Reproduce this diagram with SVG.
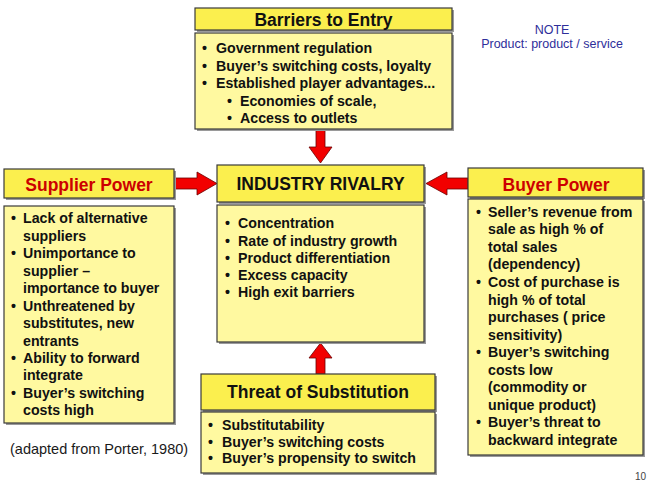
<svg xmlns="http://www.w3.org/2000/svg" width="649" height="482" viewBox="0 0 649 482">
<style>
.hdr{fill:#FBEF4E;stroke:#3a3a3a;stroke-width:1.2}
.body{fill:#FFF9A0;stroke:#3a3a3a;stroke-width:1.2}
.sh{fill:#9a9a9a}
.ht{font-family:"Liberation Sans",Arial,sans-serif;font-weight:bold;font-size:17.5px;fill:#111;text-anchor:middle}
.red{fill:#CC0000}
.bt{font-family:"Liberation Sans",Arial,sans-serif;font-weight:bold;font-size:14.2px;fill:#111}
.arrow{fill:#F20000;stroke:#6a0000;stroke-width:0.8}
.note{font-family:"Liberation Sans",Arial,sans-serif;font-size:12.5px;fill:#2E2E9A}
</style>
<rect width="649" height="482" fill="#fff"/>
<g id="connectors">
<polygon class="arrow" points="316,129 325,129 325,147 332,147 320.5,163 309,147 316,147"/>
<polygon class="arrow" points="320.5,343 332,358 325,358 325,374 316,374 316,358 309,358"/>
<polygon class="arrow" points="174,178 197,178 197,172 217,183.5 197,195 197,189 174,189"/>
<polygon class="arrow" points="468,178 447,178 447,172 426,183.5 447,195 447,189 468,189"/>
</g>
<g id="barriers">
<rect class="sh" x="197" y="10" width="257" height="22"/>
<rect class="hdr" x="195" y="8" width="257" height="22"/>
<text class="ht" x="323.5" y="26">Barriers to Entry</text>
<rect class="sh" x="197" y="35" width="257" height="96"/>
<rect class="body" x="195" y="33" width="257" height="96"/>
<g class="bt">
<text x="202" y="53">•</text><text x="216" y="53">Government regulation</text>
<text x="202" y="71">•</text><text x="216" y="71">Buyer’s switching costs, loyalty</text>
<text x="202" y="88">•</text><text x="216" y="88">Established player advantages...</text>
<text x="227" y="106">•</text><text x="240" y="106">Economies of scale,</text>
<text x="227" y="123">•</text><text x="240" y="123">Access to outlets</text>
</g>
</g>
<g id="supplier">
<rect class="sh" x="6" y="171" width="170" height="29"/>
<rect class="hdr" x="4" y="169" width="170" height="29"/>
<text class="ht red" x="89" y="191">Supplier Power</text>
<rect class="sh" x="6" y="208" width="170" height="217"/>
<rect class="body" x="4" y="206" width="170" height="217"/>
<g class="bt">
<text x="11" y="223">•</text><text x="23" y="223">Lack of alternative</text>
<text x="23" y="241">suppliers</text>
<text x="11" y="258">•</text><text x="23" y="258">Unimportance to</text>
<text x="23" y="276">supplier –</text>
<text x="23" y="293">importance to buyer</text>
<text x="11" y="311">•</text><text x="23" y="311">Unthreatened by</text>
<text x="23" y="328">substitutes, new</text>
<text x="23" y="346">entrants</text>
<text x="11" y="363">•</text><text x="23" y="363">Ability to forward</text>
<text x="23" y="380">integrate</text>
<text x="11" y="398">•</text><text x="23" y="398">Buyer’s switching</text>
<text x="23" y="415">costs high</text>
</g>
</g>
<g id="rivalry">
<rect class="sh" x="219" y="167" width="207" height="37"/>
<rect class="hdr" x="217" y="165" width="207" height="37"/>
<text class="ht" x="320.5" y="190">INDUSTRY RIVALRY</text>
<rect class="sh" x="219" y="207" width="207" height="137"/>
<rect class="body" x="217" y="205" width="207" height="137"/>
<g class="bt">
<text x="225" y="228">•</text><text x="238" y="228">Concentration</text>
<text x="225" y="246">•</text><text x="238" y="246">Rate of industry growth</text>
<text x="225" y="263">•</text><text x="238" y="263">Product differentiation</text>
<text x="225" y="280">•</text><text x="238" y="280">Excess capacity</text>
<text x="225" y="297">•</text><text x="238" y="297">High exit barriers</text>
</g>
</g>
<g id="buyer">
<rect class="sh" x="470" y="170" width="175" height="29"/>
<rect class="hdr" x="468" y="168" width="175" height="29"/>
<text class="ht red" x="556" y="191">Buyer Power</text>
<rect class="sh" x="470" y="201" width="175" height="256"/>
<rect class="body" x="468" y="199" width="175" height="256"/>
<g class="bt">
<text x="476" y="217">•</text><text x="488" y="217">Seller’s revenue from</text>
<text x="488" y="234">sale as high % of</text>
<text x="488" y="252">total sales</text>
<text x="488" y="269">(dependency)</text>
<text x="476" y="287">•</text><text x="488" y="287">Cost of purchase is</text>
<text x="488" y="305">high % of total</text>
<text x="488" y="322">purchases ( price</text>
<text x="488" y="340">sensitivity)</text>
<text x="476" y="357">•</text><text x="488" y="357">Buyer’s switching</text>
<text x="488" y="375">costs low</text>
<text x="488" y="392">(commodity or</text>
<text x="488" y="410">unique product)</text>
<text x="476" y="427">•</text><text x="488" y="427">Buyer’s threat to</text>
<text x="488" y="445">backward integrate</text>
</g>
</g>
<g id="substitution">
<rect class="sh" x="203" y="376" width="234" height="36"/>
<rect class="hdr" x="201" y="374" width="234" height="36"/>
<text class="ht" x="318" y="398">Threat of Substitution</text>
<rect class="sh" x="203" y="414" width="234" height="61"/>
<rect class="body" x="201" y="412" width="234" height="61"/>
<g class="bt">
<text x="208" y="430">•</text><text x="222" y="430">Substitutability</text>
<text x="208" y="447">•</text><text x="222" y="447">Buyer’s switching costs</text>
<text x="208" y="463">•</text><text x="222" y="463">Buyer’s propensity to switch</text>
</g>
</g>
<g id="note">
<text class="note" x="552" y="34" text-anchor="middle">NOTE</text>
<text class="note" x="552" y="48" text-anchor="middle">Product: product / service</text>
</g>
<text x="10" y="454" font-family="Liberation Sans,Arial,sans-serif" font-size="14.5" fill="#1a1a1a">(adapted from Porter, 1980)</text>
<text x="635" y="480" font-family="Liberation Sans,Arial,sans-serif" font-size="10" fill="#444">10</text>
</svg>
